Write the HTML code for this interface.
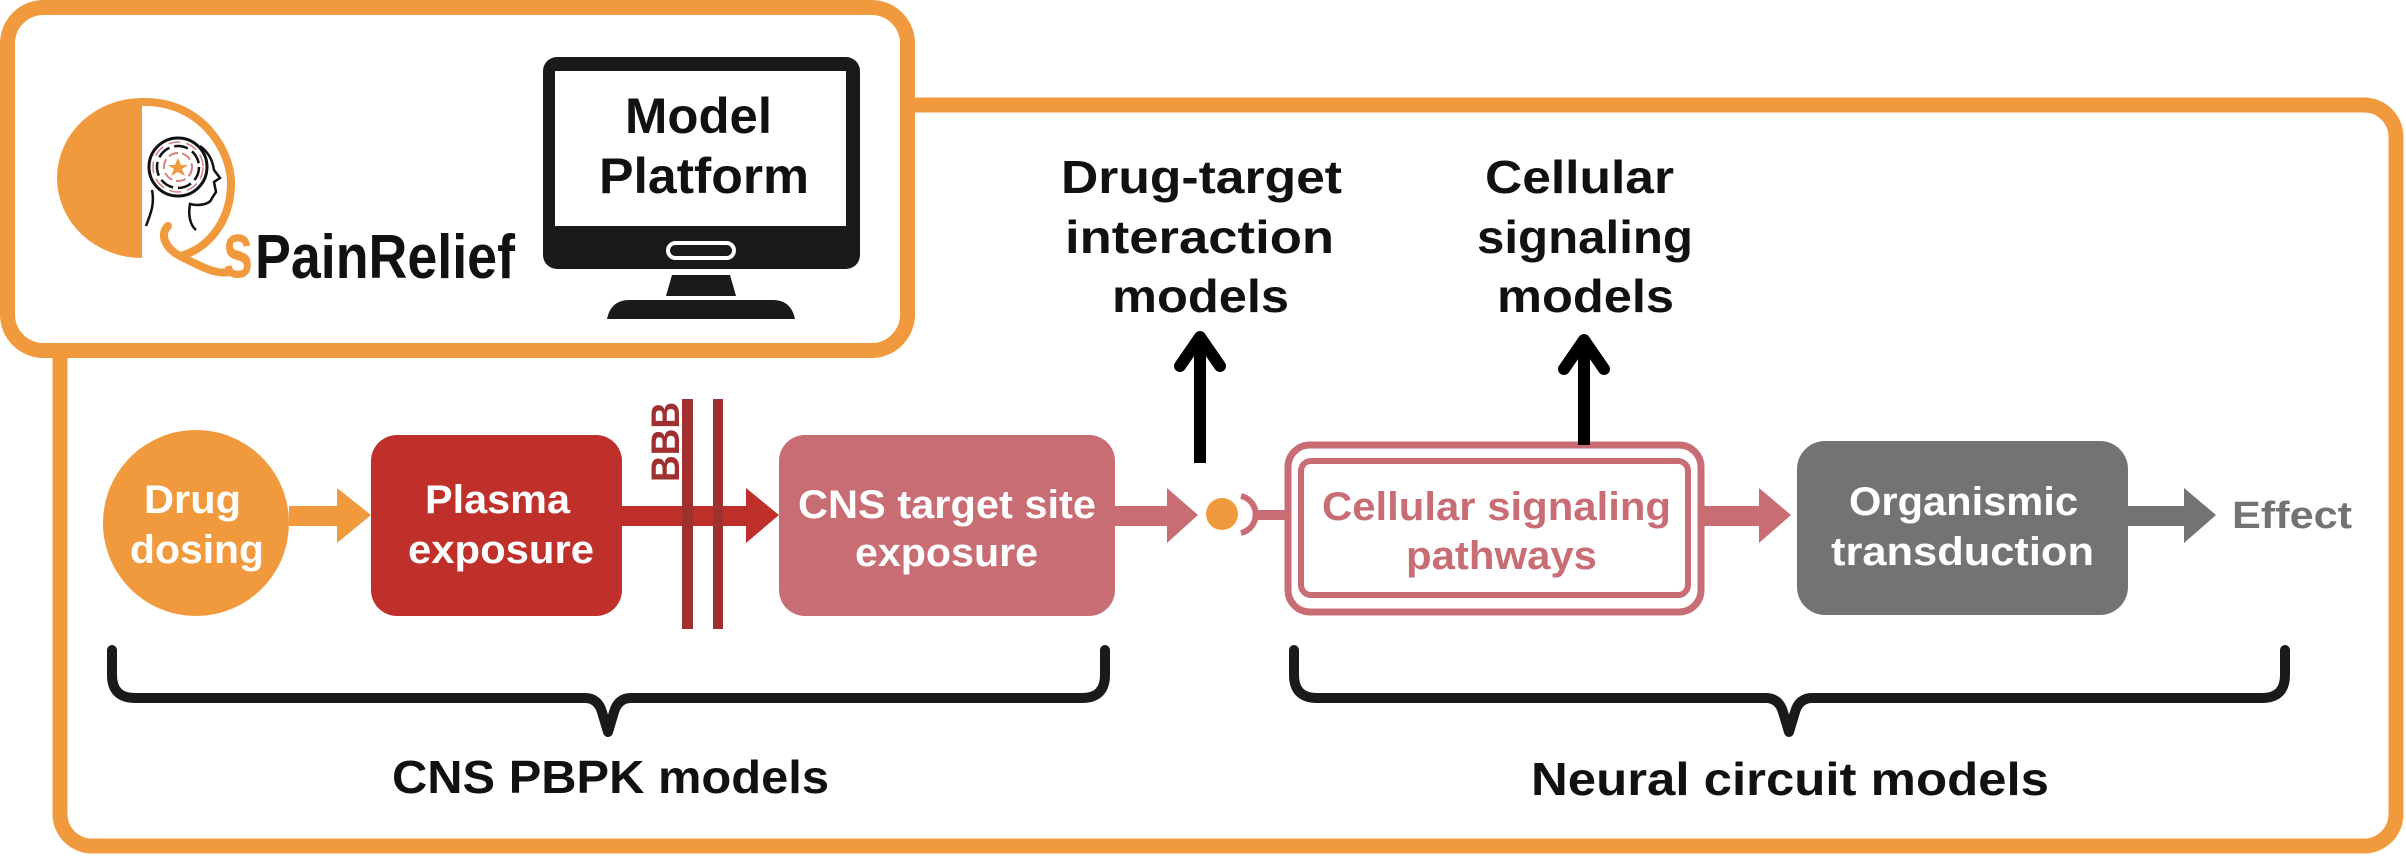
<!DOCTYPE html>
<html><head><meta charset="utf-8"><style>
html,body{margin:0;padding:0;background:#fff;}
svg{display:block;}
text{font-family:"Liberation Sans Narrow","Liberation Sans",sans-serif;font-weight:bold;}
</style></head><body>
<svg width="2406" height="856" viewBox="0 0 2406 856" xmlns="http://www.w3.org/2000/svg">
<!-- main box -->
<rect x="60" y="105" width="2336" height="741" rx="32" fill="#fff" stroke="#F0993D" stroke-width="15"/>
<!-- top box -->
<rect x="7.5" y="7.5" width="900" height="343" rx="36" fill="#fff" stroke="#F0993D" stroke-width="15"/>

<!-- logo -->
<path d="M142 98 A85 80 0 0 0 142 258 Z" fill="#F0993D"/>
<path d="M142 102 C200 100 232 150 231 185 C230 225 205 250 180 256" fill="none" stroke="#F0993D" stroke-width="8"/>
<path d="M168 226 C158 236 168 250 180 256 C200 266 215 275 230 272" fill="none" stroke="#F0993D" stroke-width="8" stroke-linecap="round"/>
<circle cx="178" cy="167" r="29" fill="none" stroke="#111" stroke-width="3"/>
<circle cx="178" cy="167" r="21" fill="none" stroke="#111" stroke-width="2.5" stroke-dasharray="14 5"/>
<circle cx="178" cy="167" r="14" fill="none" stroke="#d98080" stroke-width="2" stroke-dasharray="10 4"/>
<circle cx="178" cy="167" r="25" fill="none" stroke="#d98080" stroke-width="1.5" stroke-dasharray="12 6"/>
<polygon points="178,158 181,165 188,165 182,169 185,176 178,172 171,176 174,169 168,165 175,165" fill="#F0993D"/>
<path d="M200 146 C212 155 213 165 214 170 L220 178 L214 182 L216 192 L212 198 C210 205 198 206 190 204 C188 215 190 225 196 230" fill="none" stroke="#111" stroke-width="2.5"/>
<path d="M152 190 C155 205 150 215 146 226" fill="none" stroke="#111" stroke-width="2.5"/>
<text x="223" y="277" font-size="80" fill="#F0993D" textLength="30" lengthAdjust="spacingAndGlyphs">s</text>
<text x="255" y="278" font-size="62" fill="#111" textLength="260" lengthAdjust="spacingAndGlyphs">PainRelief</text>

<!-- monitor -->
<rect x="543" y="57" width="317" height="212" rx="14" fill="#1a1a1a"/>
<rect x="555" y="71" width="291" height="155" fill="#fff"/>
<rect x="668" y="243" width="66" height="15" rx="7.5" fill="#1a1a1a" stroke="#fff" stroke-width="4"/>
<polygon points="672,275 730,275 736,296 666,296" fill="#1a1a1a"/>
<path d="M607 319 C610 305 618 300 630 300 L772 300 C784 300 792 305 795 319 Z" fill="#1a1a1a"/>
<text x="625" y="133" font-size="50" fill="#111" textLength="147" lengthAdjust="spacingAndGlyphs">Model</text>
<text x="599" y="193" font-size="50" fill="#111" textLength="210" lengthAdjust="spacingAndGlyphs">Platform</text>

<!-- top labels -->
<text x="1061" y="193" font-size="46" fill="#111" textLength="281" lengthAdjust="spacingAndGlyphs">Drug-target</text>
<text x="1065" y="253" font-size="46" fill="#111" textLength="269" lengthAdjust="spacingAndGlyphs">interaction</text>
<text x="1112" y="312" font-size="46" fill="#111" textLength="177" lengthAdjust="spacingAndGlyphs">models</text>
<text x="1485" y="193" font-size="46" fill="#111" textLength="189" lengthAdjust="spacingAndGlyphs">Cellular</text>
<text x="1477" y="253" font-size="46" fill="#111" textLength="216" lengthAdjust="spacingAndGlyphs">signaling</text>
<text x="1497" y="312" font-size="46" fill="#111" textLength="177" lengthAdjust="spacingAndGlyphs">models</text>
<!-- up arrows -->
<line x1="1200" y1="463" x2="1200" y2="340" stroke="#000" stroke-width="12"/>
<polyline points="1180,366 1200,337 1220,366" fill="none" stroke="#000" stroke-width="12" stroke-linecap="round" stroke-linejoin="round"/>
<line x1="1584" y1="445" x2="1584" y2="343" stroke="#000" stroke-width="12"/>
<polyline points="1564,369 1584,340 1604,369" fill="none" stroke="#000" stroke-width="12" stroke-linecap="round" stroke-linejoin="round"/>

<!-- drug dosing -->
<ellipse cx="196" cy="523" rx="93" ry="93" fill="#F0993D"/>
<text x="144" y="513" font-size="40" fill="#fff" textLength="97" lengthAdjust="spacingAndGlyphs">Drug</text>
<text x="130" y="563" font-size="40" fill="#fff" textLength="134" lengthAdjust="spacingAndGlyphs">dosing</text>
<polygon points="289,506 337,506 337,488 371,515 337,543 337,526 289,526" fill="#F0993D"/>

<!-- plasma -->
<rect x="371" y="435" width="251" height="181" rx="26" fill="#C0302A"/>
<text x="425" y="513" font-size="40" fill="#fff" textLength="145" lengthAdjust="spacingAndGlyphs">Plasma</text>
<text x="408" y="563" font-size="40" fill="#fff" textLength="186" lengthAdjust="spacingAndGlyphs">exposure</text>
<polygon points="622,506 746,506 746,488 779,515 746,543 746,526 622,526" fill="#C0302A"/>
<rect x="682" y="399" width="11" height="230" fill="#A0302F"/>
<rect x="713" y="399" width="10" height="230" fill="#A0302F"/>
<text transform="translate(679,482) rotate(-90)" x="0" y="0" font-size="40" fill="#A0302F" textLength="80" lengthAdjust="spacingAndGlyphs">BBB</text>

<!-- CNS target -->
<rect x="779" y="435" width="336" height="181" rx="26" fill="#C96D75"/>
<text x="798" y="518" font-size="40" fill="#fff" textLength="298" lengthAdjust="spacingAndGlyphs">CNS target site</text>
<text x="855" y="566" font-size="40" fill="#fff" textLength="183" lengthAdjust="spacingAndGlyphs">exposure</text>
<polygon points="1115,506 1167,506 1167,488 1198,515 1167,543 1167,526 1115,526" fill="#C96D75"/>
<circle cx="1222" cy="514" r="16" fill="#F0993D"/>
<path d="M1241 496 A19 19 0 0 1 1241 533" fill="none" stroke="#C96D75" stroke-width="6"/>
<rect x="1257" y="510" width="30" height="10" fill="#C96D75"/>

<!-- cellular signaling -->
<rect x="1288" y="445" width="413" height="167" rx="22" fill="#fff" stroke="#C96D75" stroke-width="7"/>
<rect x="1301" y="461" width="387" height="134" rx="10" fill="#fff" stroke="#C96D75" stroke-width="6"/>
<line x1="1584" y1="445" x2="1584" y2="441" stroke="#000" stroke-width="12"/>
<text x="1322" y="520" font-size="40" fill="#C96D75" textLength="349" lengthAdjust="spacingAndGlyphs">Cellular signaling</text>
<text x="1406" y="569" font-size="40" fill="#C96D75" textLength="191" lengthAdjust="spacingAndGlyphs">pathways</text>
<polygon points="1704,506 1759,506 1759,488 1791,515 1759,543 1759,526 1704,526" fill="#C96D75"/>

<!-- organismic -->
<rect x="1797" y="441" width="331" height="174" rx="28" fill="#737373"/>
<text x="1849" y="515" font-size="40" fill="#fff" textLength="229" lengthAdjust="spacingAndGlyphs">Organismic</text>
<text x="1831" y="565" font-size="40" fill="#fff" textLength="263" lengthAdjust="spacingAndGlyphs">transduction</text>
<polygon points="2128,506 2184,506 2184,488 2216,515 2184,543 2184,526 2128,526" fill="#737373"/>
<text x="2232" y="528" font-size="38" fill="#737373" textLength="120" lengthAdjust="spacingAndGlyphs">Effect</text>

<!-- braces -->
<path d="M112 650 L112 675 Q112 698 135 698 L585 698 Q598 698 602 712 L608 732 L614 712 Q618 698 631 698 L1082 698 Q1105 698 1105 675 L1105 650" fill="none" stroke="#1a1a1a" stroke-width="10" stroke-linejoin="round" stroke-linecap="round"/>
<path d="M1294 650 L1294 675 Q1294 698 1317 698 L1766 698 Q1779 698 1783 712 L1789 732 L1795 712 Q1799 698 1812 698 L2262 698 Q2285 698 2285 675 L2285 650" fill="none" stroke="#1a1a1a" stroke-width="10" stroke-linejoin="round" stroke-linecap="round"/>
<text x="392" y="793" font-size="46" fill="#111" textLength="437" lengthAdjust="spacingAndGlyphs">CNS PBPK models</text>
<text x="1531" y="795" font-size="46" fill="#111" textLength="518" lengthAdjust="spacingAndGlyphs">Neural circuit models</text>
</svg>
</body></html>
